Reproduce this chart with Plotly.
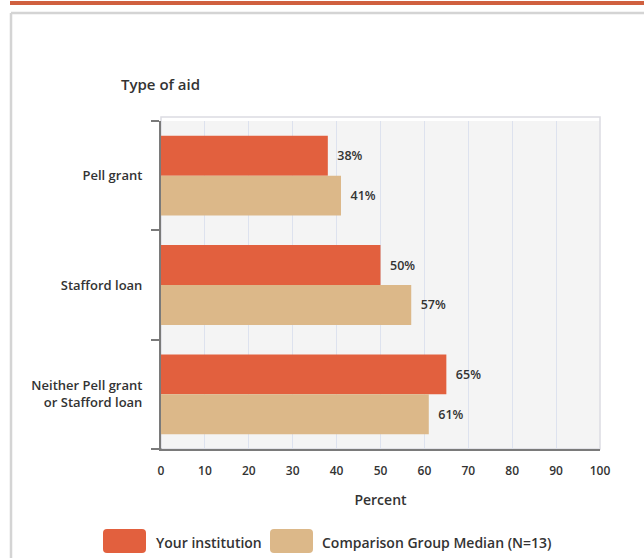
import plotly.graph_objects as go

# chart data
categories = ["Pell grant", "Stafford loan", "Neither Pell grant<br>or Stafford loan"]
your_institution = [38, 50, 65]
comparison_median = [41, 57, 61]
series_names = ["Your institution", "Comparison Group Median (N=13)"]
x_ticks = [0, 10, 20, 30, 40, 50, 60, 70, 80, 90, 100]

ORANGE = "#e2603e"
TAN = "#dcb889"
TEXT = "#333333"
FONT = "Open Sans"
W = 600

# plot area in pixels: x 161..600, y 121..449
L, R, T, B = 161, 600, 121, 449


def px_x(p):
    return (p - L) / (R - L)


def px_y(p):
    return (B - p) / (B - T)


def rounded_rect(x0, y0, x1, y1, r=4):
    # path in paper coords from pixel box
    ax0, ax1 = px_x(x0), px_x(x1)
    ay0, ay1 = px_y(y0), px_y(y1)
    rx = r / (R - L)
    ry = r / (B - T)
    return (f"M{ax0 + rx},{ay0} L{ax1 - rx},{ay0} Q{ax1},{ay0} {ax1},{ay0 - ry} "
            f"L{ax1},{ay1 + ry} Q{ax1},{ay1} {ax1 - rx},{ay1} "
            f"L{ax0 + rx},{ay1} Q{ax0},{ay1} {ax0},{ay1 + ry} "
            f"L{ax0},{ay0 - ry} Q{ax0},{ay0} {ax0 + rx},{ay0} Z")


fig = go.Figure()
for name, vals, col in [(series_names[0], your_institution, ORANGE),
                        (series_names[1], comparison_median, TAN)]:
    fig.add_trace(go.Bar(
        y=categories, x=vals, name=name, orientation="h",
        marker=dict(color=col, line=dict(width=0)),
        text=["  %d%%" % v for v in vals], textposition="outside",
        textfont=dict(family=FONT, size=12.5, color=TEXT, weight=W),
        cliponaxis=False, showlegend=False,
    ))

FRAME = dict(color="#d4d4d4", width=2.5)
shapes = [
    # top orange rule
    dict(type="rect", xref="paper", yref="paper", x0=px_x(10), x1=px_x(650),
         y0=px_y(1), y1=px_y(5), fillcolor="#d0603f", line=dict(width=0), layer="below"),
    # outer gray frame (left + top edges only are in view)
    dict(type="line", xref="paper", yref="paper", x0=px_x(11), x1=px_x(11),
         y0=px_y(13), y1=px_y(560), line=FRAME, layer="below"),
    dict(type="line", xref="paper", yref="paper", x0=px_x(11), x1=px_x(650),
         y0=px_y(13), y1=px_y(13), line=FRAME, layer="below"),
    # plot frame
    dict(type="rect", xref="paper", yref="paper", x0=0, x1=1, y0=0, y1=px_y(117),
         line=dict(color="#dcdce2", width=1.5), fillcolor="rgba(0,0,0,0)", layer="below"),
    # bottom axis extension
    dict(type="line", xref="paper", yref="paper", x0=px_x(151), x1=0.001, y0=0, y1=0,
         line=dict(color="#7a7a7a", width=2)),
    # legend swatches
    dict(type="path", xref="paper", yref="paper", path=rounded_rect(103, 529, 146, 553),
         fillcolor=ORANGE, line=dict(width=0)),
    dict(type="path", xref="paper", yref="paper", path=rounded_rect(270, 529, 313, 553),
         fillcolor=TAN, line=dict(width=0)),
]

annotations = [
    dict(text="Type of aid", xref="paper", yref="paper", x=px_x(119), y=px_y(84),
         xanchor="left", yanchor="middle", showarrow=False,
         font=dict(family=FONT, size=15, color=TEXT, weight=W)),
    dict(text=series_names[0], xref="paper", yref="paper", x=px_x(154), y=px_y(542),
         xanchor="left", yanchor="middle", showarrow=False,
         font=dict(family=FONT, size=14, color=TEXT, weight=W)),
    dict(text=series_names[1], xref="paper", yref="paper", x=px_x(320), y=px_y(542),
         xanchor="left", yanchor="middle", showarrow=False,
         font=dict(family=FONT, size=14, color=TEXT, weight=W)),
]

fig.update_layout(
    width=644, height=558,
    margin=dict(l=L, r=644 - R, t=T, b=558 - B, pad=0),
    paper_bgcolor="white", plot_bgcolor="#f4f4f4",
    barmode="group", bargap=0.27, bargroupgap=0,
    shapes=shapes, annotations=annotations,
    font=dict(family=FONT, color=TEXT),
    xaxis=dict(
        range=[0, 100], tickvals=x_ticks, ticks="", ticklabelstandoff=10,
        tickfont=dict(family=FONT, size=12, color=TEXT, weight=W),
        showgrid=True, gridcolor="#dde2ee", gridwidth=1, zeroline=False,
        showline=True, linecolor="#7a7a7a", linewidth=2,
        title=dict(text="Percent", standoff=17,
                   font=dict(family=FONT, size=14, color=TEXT, weight=W)),
    ),
    yaxis=dict(
        categoryorder="array", categoryarray=categories, autorange="reversed",
        ticks="outside", tickson="boundaries", ticklen=8, tickwidth=2, tickcolor="#7a7a7a",
        ticklabelstandoff=14,
        tickfont=dict(family=FONT, size=13, color=TEXT, weight=W),
        showline=True, linecolor="#7a7a7a", linewidth=2, showgrid=False,
    ),
)

# page body margin would shift the figure by 8px
fig.write_html("out.html", config={"displayModeBar": False},
               post_script="document.body.style.margin='0';document.body.style.overflow='hidden';")
